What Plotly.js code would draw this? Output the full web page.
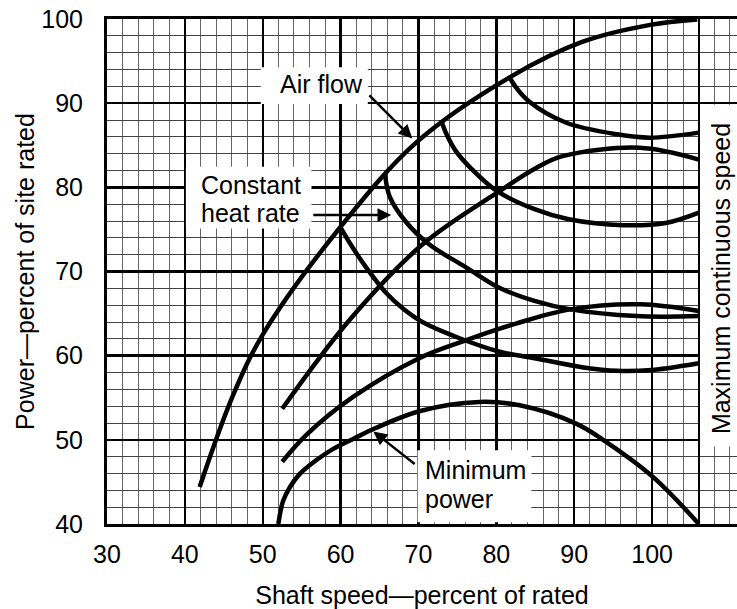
<!DOCTYPE html>
<html>
<head>
<meta charset="utf-8">
<script src="https://cdn.plot.ly/plotly-3.0.1.min.js"></script>
<style>
  html, body { margin: 0; padding: 0; background: #ffffff; }
  #chart { width: 737px; height: 609px; }
</style>
</head>
<body>
<div id="chart"></div>
<script>
// Shaft speed (percent of rated) vs. power (percent of site rated)

// Air-flow limit (upper envelope)
const airFlowSpeed = [41.9, 46.1, 50.0, 59.9, 69.8, 81.75, 91.1, 99.75, 105.8];
const airFlowPower = [44.4, 55.1, 62.5, 75.2, 85.4, 93.1, 97.3, 99.3, 99.95];

// Constant heat-rate curves branching off the air-flow limit
const heatRate1Speed = [60.0, 61.5, 63.5, 65.7, 68.0, 70.5, 75.2, 80.3, 84.9, 91.2, 95.5, 100.0, 104.0, 106.0];
const heatRate1Power = [75.2, 72.9, 70.2, 67.6, 65.6, 64.0, 62.1, 60.5, 59.7, 58.6, 58.2, 58.3, 58.8, 59.1];

const heatRate2Speed = [65.7, 66.3, 68.3, 71.4, 76.1, 80.3, 84.9, 89.5, 98.0, 106.0];
const heatRate2Power = [81.6, 78.9, 76.0, 73.2, 70.5, 68.1, 66.5, 65.5, 64.7, 64.7];

const heatRate3Speed = [72.9, 73.6, 74.8, 76.8, 80.0, 84.9, 89.3, 96.3, 101.9, 106.0];
const heatRate3Power = [88.0, 86.3, 84.3, 82.2, 79.6, 77.4, 76.2, 75.5, 75.8, 77.0];

const heatRate4Speed = [81.6, 82.5, 84.2, 88.9, 95.5, 99.7, 106.0];
const heatRate4Power = [93.2, 91.9, 90.2, 87.7, 86.3, 85.9, 86.5];

// Rising curves starting near 52 % speed
const upperRiseSpeed = [52.5, 61.2, 70.5, 80.0, 85.1, 88.5, 98.4, 106.0];
const upperRisePower = [53.7, 64.3, 73.2, 79.3, 82.3, 83.7, 84.7, 83.3];

const lowerRiseSpeed = [52.5, 55.6, 61.6, 70.1, 75.7, 82.5, 89.5, 98.5, 106.0];
const lowerRisePower = [47.4, 50.6, 55.1, 59.7, 61.7, 63.8, 65.5, 66.1, 65.3];

// Minimum power
const minPowerSpeed = [52.0, 52.6, 53.5, 54.7, 56.9, 59.0, 61.6, 64.5, 70.1, 77.8, 83.0, 90.3, 93.7, 100.1, 106.0];
const minPowerPower = [40.0, 42.7, 44.4, 45.9, 47.6, 48.9, 50.1, 51.4, 53.4, 54.5, 54.1, 51.9, 50.0, 45.6, 40.0];

// Axis ticks
const xTickVals = [30, 40, 50, 60, 70, 80, 90, 100];
const xTickText = ['30', '40', '50', '60', '70', '80', '90', '100'];
const yTickVals = [40, 50, 60, 70, 80, 90, 100];
const yTickText = ['40', '50', '60', '70', '80', '90', '100'];
const maxContinuousSpeed = 106;

const FONT = 'Liberation Sans, Arial, Helvetica, sans-serif';

const curves = [
  [airFlowSpeed, airFlowPower],
  [heatRate1Speed, heatRate1Power],
  [heatRate2Speed, heatRate2Power],
  [heatRate3Speed, heatRate3Power],
  [heatRate4Speed, heatRate4Power],
  [upperRiseSpeed, upperRisePower],
  [lowerRiseSpeed, lowerRisePower],
  [minPowerSpeed, minPowerPower]
];

const traces = curves.map(([xs, ys]) => ({
  type: 'scatter',
  mode: 'lines',
  x: xs,
  y: ys,
  line: { color: '#000000', width: 4.5, shape: 'spline', smoothing: 1 },
  hoverinfo: 'skip',
  showlegend: false,
  cliponaxis: true
}));

// white label boxes that mask the grid paper
function whiteBox(x0, x1, y0, y1) {
  return {
    type: 'rect', xref: 'x', yref: 'y',
    x0: x0, x1: x1, y0: y0, y1: y1,
    fillcolor: '#ffffff', line: { width: 0 }, layer: 'above'
  };
}

function label(text, x, y, extra) {
  return Object.assign({
    text: text, x: x, y: y, xref: 'x', yref: 'y',
    xanchor: 'left', yanchor: 'middle',
    showarrow: false, borderpad: 0,
    font: { family: FONT, size: 25, color: '#000000' }
  }, extra || {});
}

function arrow(xTip, yTip, xTail, yTail) {
  return {
    text: '', x: xTip, y: yTip, ax: xTail, ay: yTail,
    xref: 'x', yref: 'y', axref: 'x', ayref: 'y',
    showarrow: true, arrowhead: 2, arrowsize: 1.1, arrowwidth: 2.5,
    arrowcolor: '#000000', standoff: 0, startstandoff: 0
  };
}

const layout = {
  width: 737,
  height: 609,
  margin: { l: 107, r: 0, t: 19, b: 85 },
  paper_bgcolor: '#ffffff',
  plot_bgcolor: '#ffffff',
  font: { family: FONT, size: 25, color: '#000000' },
  xaxis: {
    range: [30, 110.9],
    tickmode: 'array',
    tickvals: xTickVals.concat([maxContinuousSpeed]),
    ticktext: xTickText.concat(['']),
    ticks: '',
    ticklabelstandoff: 6,
    tickfont: { family: FONT, size: 25, color: '#000000' },
    showgrid: true, gridcolor: '#000000', gridwidth: 2.5,
    minor: { tick0: 30, dtick: 2, showgrid: true, gridcolor: '#666666', gridwidth: 1 },
    showline: true, linecolor: '#000000', linewidth: 3, mirror: true,
    zeroline: false,
    automargin: false,
    title: { text: 'Shaft speed\u2014percent of rated', font: { family: FONT, size: 25, color: '#000000' }, standoff: 21 }
  },
  yaxis: {
    range: [40, 100],
    tickmode: 'array',
    tickvals: yTickVals,
    ticktext: yTickText,
    ticks: '',
    ticklabelstandoff: 16,
    tickfont: { family: FONT, size: 25, color: '#000000' },
    showgrid: true, gridcolor: '#000000', gridwidth: 2.5,
    minor: { tick0: 40, dtick: 2, showgrid: true, gridcolor: '#444444', gridwidth: 1 },
    showline: true, linecolor: '#000000', linewidth: 3, mirror: false,
    zeroline: false,
    automargin: false,
    title: { text: 'Power\u2014percent of site rated', font: { family: FONT, size: 25, color: '#000000' }, standoff: 0 }
  },
  shapes: [
    whiteBox(49.74, 63.49, 89.9, 94.26),
    whiteBox(40.13, 56.26, 75.1, 82.45),
    whiteBox(69.87, 84.5, 40.2, 48.76),
    whiteBox(106.15, 110.9, 49.2, 89.8)
  ],
  annotations: [
    label('Air flow', 52.1, 92.26),
    arrow(69.2, 85.8, 63.5, 91.1),
    label('Constant', 41.92, 80.24),
    label('heat rate', 41.92, 76.93),
    arrow(66.5, 76.7, 56.3, 76.7),
    label('Minimum', 70.76, 46.39),
    label('power', 70.76, 42.98),
    arrow(64.2, 51.0, 69.7, 47.0),
    label('Maximum continuous speed', 108.85, 69.1, { xanchor: 'center', textangle: -90 })
  ]
};

Plotly.newPlot('chart', traces, layout, { staticPlot: true, displayModeBar: false });
</script>
</body>
</html>
